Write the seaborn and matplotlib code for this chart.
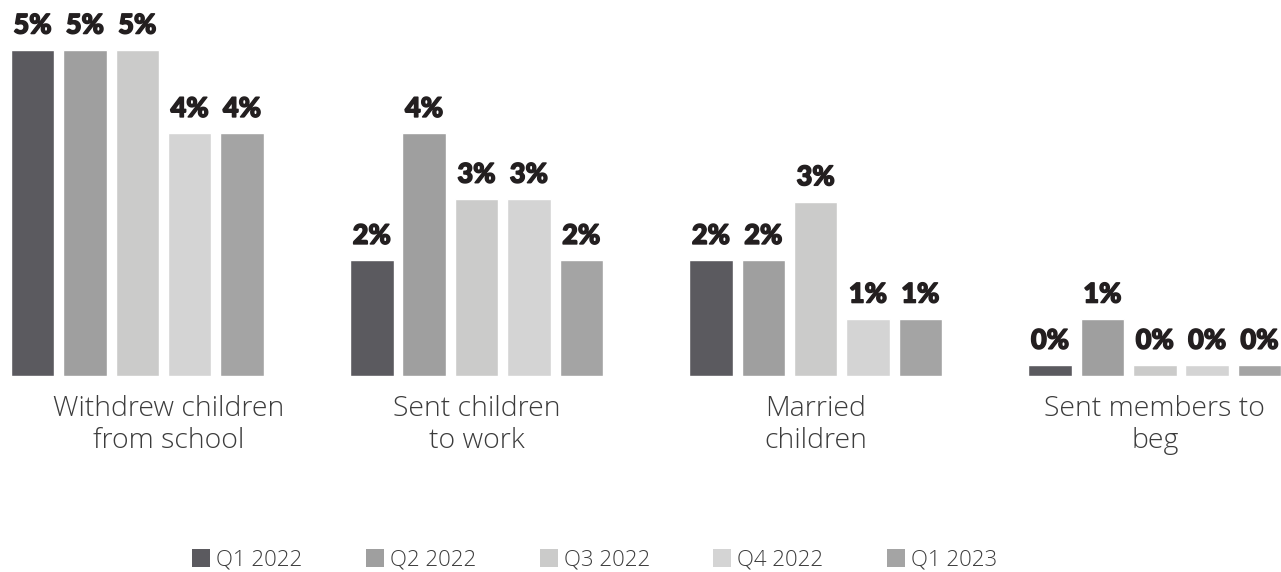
import matplotlib
matplotlib.use("Agg")
import matplotlib.pyplot as plt
from matplotlib import font_manager as fm
from matplotlib import patheffects as pe
from matplotlib.transforms import ScaledTranslation
from matplotlib.patches import Patch
import seaborn as sns
import pandas as pd

# Share of households using each coping strategy, by survey round (%)
categories = [
    "Withdrew children\nfrom school",
    "Sent children\nto work",
    "Married\nchildren",
    "Sent members to\nbeg",
]
quarters = ["Q1 2022", "Q2 2022", "Q3 2022", "Q4 2022", "Q1 2023"]
q1_2022 = [5.0, 1.77, 1.77, 0.16]
q2_2022 = [5.0, 3.72, 1.77, 0.87]
q3_2022 = [5.0, 2.71, 2.67, 0.16]
q4_2022 = [3.72, 2.71, 0.87, 0.16]
q1_2023 = [3.72, 1.77, 0.87, 0.16]
series = [q1_2022, q2_2022, q3_2022, q4_2022, q1_2023]
colors = ["#5b5a5f", "#9f9f9f", "#cbcbca", "#d4d4d4", "#a4a4a4"]

rows = []
for q, vals in zip(quarters, series):
    for c, v in zip(categories, vals):
        rows.append({"category": c, "quarter": q, "value": v})
df = pd.DataFrame(rows)


def heaviest_face(families):
    """Return the path of the heaviest upright face among the given families."""
    wmap = {"thin": 100, "extralight": 200, "light": 300, "normal": 400,
            "regular": 400, "medium": 500, "semibold": 600, "demibold": 600,
            "bold": 700, "extrabold": 800, "heavy": 900, "black": 900}
    for fam in families:
        best, best_w = None, -1
        for f in fm.fontManager.ttflist:
            if f.name != fam or f.style != "normal":
                continue
            w = f.weight if isinstance(f.weight, int) else wmap.get(str(f.weight).lower(), 400)
            if w > best_w:
                best, best_w = f.fname, w
        if best is not None and best_w >= 800:
            return best
    return None


sns.set_theme(style="white")
plt.rcParams["font.family"] = ["Open Sans", "DejaVu Sans"]

heavy_path = heaviest_face(["Lato", "Open Sans", "Roboto", "Inter", "Noto Sans"])
if heavy_path:
    value_font = fm.FontProperties(fname=heavy_path, size=19.5)
else:
    value_font = fm.FontProperties(family="DejaVu Sans", weight="bold", size=18)

fig = plt.figure(figsize=(12.81, 5.72), dpi=100)
ax = fig.add_axes([0, 1 - 375.7 / 572, 1, 375.7 / 572])

sns.barplot(
    data=df, x="category", y="value", hue="quarter",
    order=categories, hue_order=quarters,
    palette=colors, width=0.772, gap=0.17,
    saturation=1, legend=False, ax=ax,
)

label_ink = "#231f20"
for cont, vals in zip(ax.containers, series):
    texts = ax.bar_label(
        cont, labels=[f"{round(v)}%" for v in vals], padding=9,
        fontproperties=value_font, color=label_ink,
    )
    for t in texts:
        t.set_path_effects([pe.Stroke(linewidth=1.1, foreground=label_ink), pe.Normal()])

ax.set_xlim(-0.405, 3.372)
ax.set_ylim(0, 5.768)
ax.set_xlabel("")
ax.set_ylabel("")
ax.set_yticks([])
ax.tick_params(axis="x", length=0, pad=14)
for i, lbl in enumerate(ax.get_xticklabels()):
    lbl.set_fontsize(20.5)
    lbl.set_fontweight("light")
    lbl.set_color("#3c3c3c")
    lbl.set_linespacing(1.18)
# the first category caption sits a little right of its bar group
ax.get_xticklabels()[0].set_transform(
    ax.get_xticklabels()[0].get_transform() + ScaledTranslation(0.31, 0, fig.dpi_scale_trans)
)
sns.despine(ax=ax, left=True, bottom=True, top=True, right=True)

handles = [Patch(facecolor=c, edgecolor="none") for c in colors]
fig.legend(
    handles, quarters, loc="center left",
    bbox_to_anchor=(192 / 1281, 1 - 560 / 572), ncol=5, frameon=False,
    prop={"family": "Open Sans", "weight": "light", "size": 16},
    handlelength=0.81, handleheight=0.81, handletextpad=0.27,
    columnspacing=2.86, borderpad=0, borderaxespad=0, labelcolor="#3c3c3c",
)

fig.savefig("out.png", dpi=100)
